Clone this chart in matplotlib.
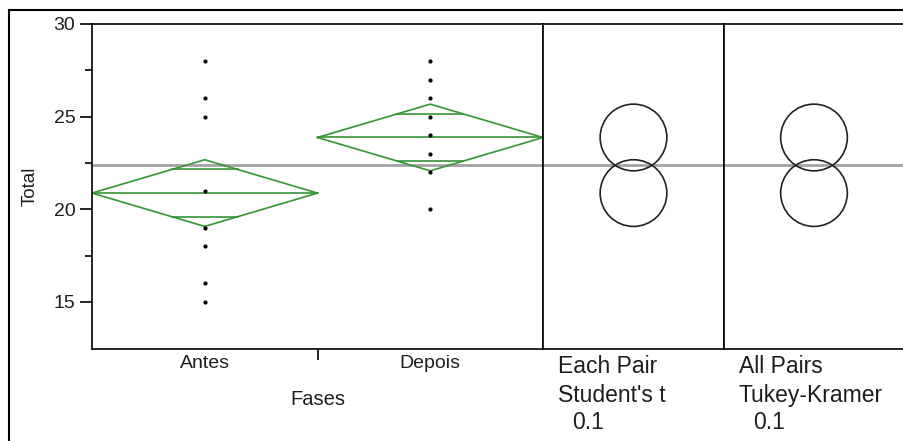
import numpy as np
import matplotlib
matplotlib.use("Agg")
import matplotlib.pyplot as plt
from matplotlib.lines import Line2D
from matplotlib.patches import Ellipse

plt.rcParams['font.family'] = ['Liberation Sans', 'DejaVu Sans']

# data
categories = ['Antes', 'Depois']
antes_vals = [28, 26, 25, 21, 19, 18, 16, 15]
depois_vals = [28, 27, 26, 25, 24, 23, 22, 20]
group_means = [20.875, 23.875]
ci_half = [1.8, 1.8]          # half height of the means diamonds
grand_mean = 22.375
circle_radius = [1.8, 1.8]    # comparison circles, per panel
panel_titles = [['Each Pair', "Student's t", '0.1'],
                ['All Pairs', 'Tukey-Kramer', '0.1']]

W, H = 904, 441
ylo, yhi = 12.46, 30
green = '#339633'
txt = '#1e1e1e'

fig = plt.figure(figsize=(W / 100, H / 100), dpi=100)

def px_box(x0, x1, y0, y1):
    # pixel box -> figure fraction [l, b, w, h]
    return [x0 / W, 1 - y1 / H, (x1 - x0) / W, (y1 - y0) / H]

ax = fig.add_axes(px_box(92, 543, 24, 349))
ax2 = fig.add_axes(px_box(543, 724, 24, 349), sharey=ax)
ax3 = fig.add_axes(px_box(724, 904, 24, 349), sharey=ax)

# main panel: points and mean diamonds
for i, vals in enumerate([antes_vals, depois_vals]):
    ax.plot([i + 0.5] * len(vals), vals, 'o', color='black', ms=2.0, zorder=3)
    m, c = group_means[i], ci_half[i]
    ax.plot([i, i + 0.5, i + 1, i + 0.5, i], [m, m + c, m, m - c, m],
            color=green, lw=1.2, zorder=2)
    ax.plot([i, i + 1], [m, m], color=green, lw=1.2, zorder=2)
    # overlap marks at mean +- ci/sqrt(2)
    d = c / np.sqrt(2)
    hw = 0.5 * (1 - d / c)
    for s in (1, -1):
        ax.plot([i + 0.5 - hw, i + 0.5 + hw], [m + s * d, m + s * d],
                color=green, lw=1.2, zorder=2)

ax.set_xlim(0, 2)
ax.set_ylim(ylo, yhi)
ax.set_yticks([15, 20, 25, 30])
ax.set_yticks([17.5, 22.5, 27.5], minor=True)
ax.set_xticks([0.5, 1.5])
ax.set_xticklabels(categories)
ax.set_xticks([1], minor=True)
ax.tick_params(axis='x', which='major', length=0, pad=4.5, labelsize=14, labelcolor=txt)
ax.tick_params(axis='x', which='minor', length=8, width=1.2, direction='out')
ax.tick_params(axis='y', which='major', length=9, width=1.2, pad=3, labelsize=14, labelcolor=txt)
ax.tick_params(axis='y', which='minor', length=5, width=1.2)
ax.set_xlabel('Fases', fontsize=14.5, color=txt, labelpad=13)
ax.set_ylabel('Total', fontsize=13.5, color=txt, labelpad=11)

# comparison circles panels
for k, a in enumerate([ax2, ax3]):
    bb = a.get_position()
    pw = bb.width * W
    ppu = bb.height * H / (yhi - ylo)
    r = circle_radius[k]
    for m in group_means:
        a.add_patch(Ellipse((0.5, m), 2 * r * ppu / pw, 2 * r, fill=False,
                            ec='#222222', lw=1.2, zorder=3))
    a.set_xlim(0, 1)
    a.set_xticks([])
    a.tick_params(axis='y', which='both', left=False, labelleft=False)
    a.spines['right'].set_visible(k == 0)

for a in (ax, ax2, ax3):
    a.axhline(grand_mean, color='#a3a3a3', lw=2, zorder=1)
    for sp in a.spines.values():
        sp.set_linewidth(1.2)

# panel captions under the circle panels
for k, lines in enumerate(panel_titles):
    x0 = [558, 739][k]
    for j, s in enumerate(lines):
        xi = x0 + (14 if j == 2 else 0)
        fig.text(xi / W, 1 - [373, 402, 429][j] / H, s, fontsize=16.5,
                 color=txt, va='baseline', ha='left')

# outer frame (left and top only)
fig.add_artist(Line2D([8.5 / W, 8.5 / W], [0, 1 - 10 / H], color='black', lw=1.5,
                      transform=fig.transFigure))
fig.add_artist(Line2D([8.5 / W, 1], [1 - 10 / H, 1 - 10 / H], color='black', lw=1.5,
                      transform=fig.transFigure))

fig.savefig('out.png', dpi=100)
